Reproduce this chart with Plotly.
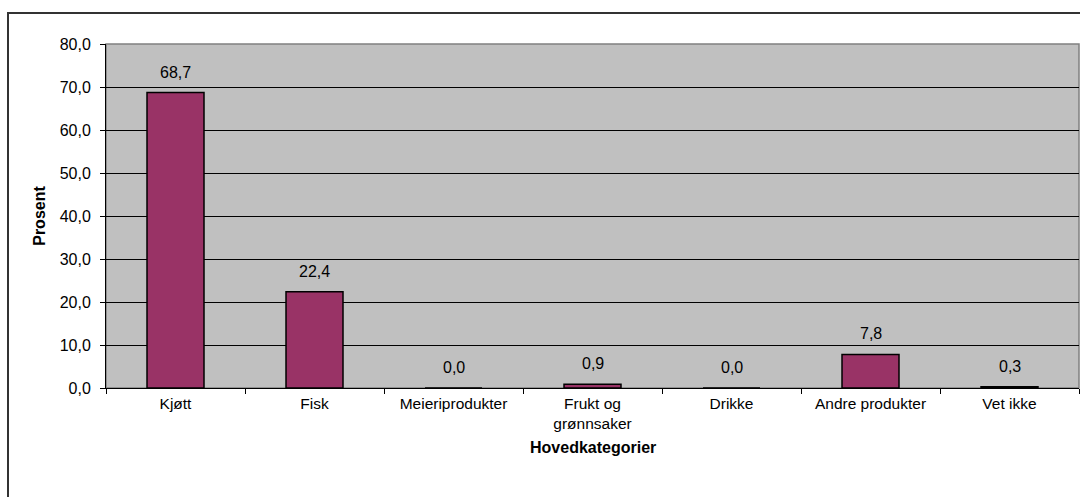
import plotly.graph_objects as go

# Data
categories = ["Kjøtt", "Fisk", "Meieriprodukter", "Frukt og<br>grønnsaker",
              "Drikke", "Andre produkter", "Vet ikke"]
values = [68.7, 22.4, 0.0, 0.9, 0.0, 7.8, 0.3]
y_ticks = [0, 10, 20, 30, 40, 50, 60, 70, 80]

W, H = 1080, 497
L, R, T, B = 106, 1, 44, 109
pw, ph = W - L - R, H - T - B

def px_x(x):
    return (x - L) / pw

def px_y(y):
    return (H - B - y) / ph

font = dict(family="Liberation Sans, Arial, sans-serif", size=16, color="black")

fig = go.Figure(go.Bar(
    x=categories, y=values, width=0.41,
    marker=dict(color="#993366", line=dict(color="black", width=1.5)),
    hoverinfo="skip",
))

for c, v in zip(categories, values):
    fig.add_annotation(x=c, y=v, xref="x", yref="y",
                       text=f"{v:.1f}".replace(".", ","), showarrow=False,
                       yanchor="bottom", yshift=10, font=font)

# x-axis title placed below the two-line category labels
fig.add_annotation(x=0.5, y=px_y(447), xref="paper", yref="paper",
                   text="<b>Hovedkategorier</b>", showarrow=False,
                   xanchor="center", yanchor="middle", font=font)

# Outer frame around the whole chart
fig.add_shape(type="rect", xref="paper", yref="paper",
              x0=px_x(8), x1=px_x(1090), y0=px_y(13), y1=px_y(510),
              line=dict(color="#333333", width=2), layer="below")
# Plot area border
fig.add_shape(type="rect", xref="paper", yref="paper",
              x0=0, x1=1, y0=0, y1=1,
              line=dict(color="#808080", width=1.5), layer="below")

fig.update_layout(
    width=W, height=H,
    margin=dict(l=L, r=R, t=T, b=B, pad=0),
    paper_bgcolor="white", plot_bgcolor="#C0C0C0",
    font=font, separators=", ", showlegend=False,
)
fig.update_xaxes(
    showgrid=False, showline=True, linecolor="black", linewidth=1,
    ticks="outside", tickson="boundaries", ticklen=5, tickcolor="black",
    tickfont=dict(size=15.5), ticklabelstandoff=1,
)
fig.update_yaxes(
    range=[0, 80], tickvals=y_ticks, tickformat=".1f",
    showgrid=True, gridcolor="black", gridwidth=1, zeroline=False,
    showline=True, linecolor="black", linewidth=1,
    ticks="outside", ticklen=5, tickcolor="black",
    tickfont=dict(size=16), ticklabelstandoff=6,
    title=dict(text="<b>Prosent</b>", font=dict(size=16), standoff=10),
)

fig.write_html("out.html")
